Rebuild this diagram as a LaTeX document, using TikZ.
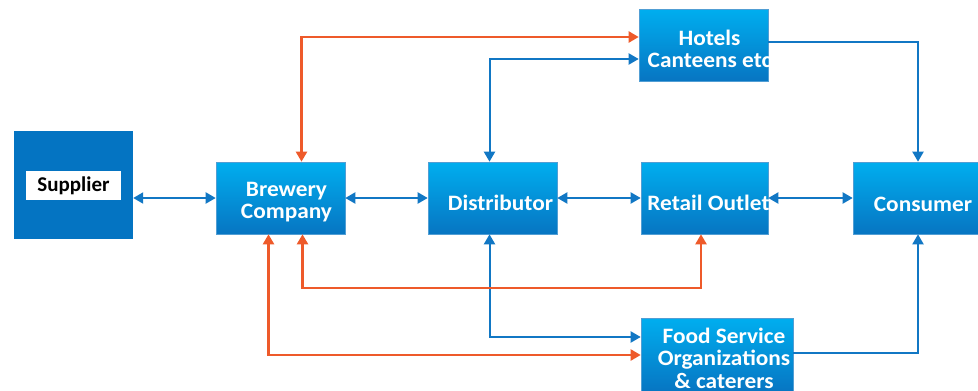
\documentclass[tikz,border=0pt]{standalone}
\usepackage{fontspec}
\setmainfont{Carlito}
\newfontfamily\lblfont{Carlito}[FakeStretch=1.06]
\usetikzlibrary{arrows.meta,calc}
\definecolor{lineblue}{HTML}{1177C4}
\definecolor{lineorange}{HTML}{EE5A2A}
\definecolor{boxtop}{HTML}{00AEEF}
\definecolor{boxbot}{HTML}{0775C2}
\definecolor{supblue}{HTML}{0474C2}
\begin{document}
\begin{tikzpicture}[x=1pt,y=-1pt,
  box/.style={rectangle, draw=boxbot!70!white, line width=0.6pt, top color=boxtop, bottom color=boxbot, inner sep=0pt},
  lbl/.style={text=white, font=\lblfont\fontsize{22}{22.5}\selectfont\bfseries, align=center, inner sep=0pt},
  bl/.style={draw=lineblue, line width=2pt, {Triangle[length=10pt,width=11pt]}-{Triangle[length=10pt,width=11pt]}},
  blone/.style={draw=lineblue, line width=2pt, -{Triangle[length=10pt,width=11pt]}},
  ol/.style={draw=lineorange, line width=2.2pt, {Triangle[length=10pt,width=11pt]}-{Triangle[length=10pt,width=11pt]}}
]
\useasboundingbox (0,0) rectangle (978,391);

% Supplier
\node[rectangle, fill=supblue, minimum width=119pt, minimum height=108pt, inner sep=0pt] (sup) at (73.5,185) {};
\node[rectangle, fill=white, minimum width=95pt, minimum height=29pt, inner sep=0pt,
      font=\fontsize{21}{22}\selectfont\bfseries, text=black] (supl) at (73.5,185.5) {Supplier};

% Boxes
\node[box, minimum width=129pt, minimum height=72pt,
      label={[lbl, xshift=6pt, yshift=-4pt]center:{Brewery\\Company}}] (brew) at (280.5,198) {};
\node[box, minimum width=129pt, minimum height=72pt,
      label={[lbl, xshift=8pt, yshift=-5pt]center:{Distributor}}] (dist) at (492.5,198) {};
\node[box, minimum width=127pt, minimum height=72pt,
      label={[lbl, xshift=4pt, yshift=-5pt]center:{Retail Outlet}}] (ret) at (704.5,198) {};
\node[box, minimum width=140pt, minimum height=72pt,
      label={[lbl, xshift=0pt, yshift=-6pt]center:{Consumer}}] (con) at (923,198) {};
\node[box, minimum width=129pt, minimum height=72pt,
      label={[lbl, xshift=6pt, yshift=-4pt]center:{Hotels\\Canteens etc}}] (hot) at (703.5,45) {};
\node[box, minimum width=152pt, minimum height=74pt,
      label={[lbl, xshift=7pt, yshift=-3pt]center:{Food Service\\Organizations\\\& caterers}}] (food) at (717,355) {};

\coordinate (ro) at (0,288);

% Blue connectors
\draw[bl] (sup.east |- brew) -- (brew.west);
\draw[bl] (brew.east) -- (dist.west);
\draw[bl] (dist.east) -- (ret.west);
\draw[bl] (ret.east) -- (con.west);
\draw[blone] ([yshift=3pt]hot.east) -| ([xshift=-5pt]con.north);
\draw[blone] ([yshift=2pt]food.east) -| ([xshift=-5pt]con.south);
\draw[bl] ([xshift=-3pt]dist.north) |- ([yshift=-14pt]hot.west);
\draw[bl] ([xshift=-3pt]dist.south) |- ([yshift=18pt]food.west);

% Orange connectors
\draw[ol] ([xshift=21pt]brew.north) |- ([yshift=8pt]hot.west);
\draw[ol] ([xshift=22pt]brew.south) -- ([xshift=22pt]brew.south |- ro) -| ([xshift=-3.5pt]ret.south);
\draw[ol] ([xshift=-12pt]brew.south) |- (food.west);
\end{tikzpicture}
\end{document}
